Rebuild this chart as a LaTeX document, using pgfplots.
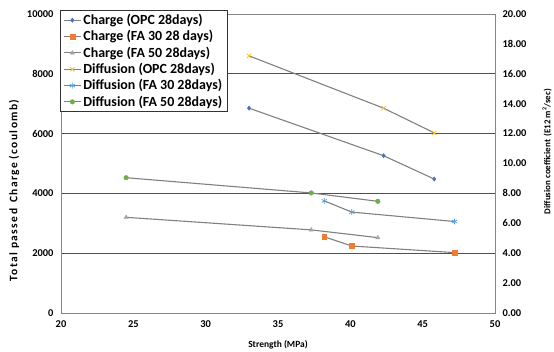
\documentclass[border=0pt]{standalone}
\usepackage{pgfplots}
\pgfplotsset{compat=1.18}
\usepackage{fontspec}
\setmainfont{Carlito}
\newfontfamily\spacedfont[LetterSpace=12]{Carlito}

\definecolor{cblue}{RGB}{68,114,196}
\definecolor{corange}{RGB}{237,125,49}
\definecolor{cgray}{RGB}{165,165,165}
\definecolor{cgold}{RGB}{255,192,0}
\definecolor{clblue}{RGB}{91,155,213}
\definecolor{cgreen}{RGB}{112,173,71}
\definecolor{linegray}{RGB}{128,128,128}
\definecolor{framegray}{RGB}{134,134,134}
\definecolor{gridgray}{RGB}{80,80,80}

\pgfplotsset{
  series/.style={color=linegray, line width=1.1pt, mark size=#1},
  common/.style={
    scale only axis, width=434bp, height=299bp,
    xmin=20, xmax=50,
    major tick length=0pt,
    tick label style={font=\bfseries\fontsize{10.5}{12}\selectfont},
    /pgf/number format/assume math mode=true,
  },
}

\begin{document}
\begin{tikzpicture}
\useasboundingbox (-61bp,-39bp) rectangle (493bp,313bp);

% Total passed charge (left axis)
\begin{axis}[common,
  ymin=0, ymax=10000, ytick={0,2000,...,10000},
  xtick={20,25,...,50},
  scaled y ticks=false,
  yticklabel style={/pgf/number format/1000 sep={}, xshift=-4bp},
  xticklabel style={yshift=-4bp},
  axis line style={framegray, line width=0.8pt},
  ymajorgrids, grid style={gridgray, line width=0.8pt},
  xlabel={Strength (MPa)}, ylabel={Total passed\, Charge (coulomb)},
  xlabel style={at={(axis description cs:0.5,-0.107)}, anchor=center,
    font=\bfseries\fontsize{9.5}{11}\selectfont},
  ylabel style={at={(axis description cs:-0.108,0.41)}, anchor=center,
    font=\spacedfont\bfseries\fontsize{11.5}{13}\selectfont},
]
\addplot[series=2.2pt, mark=diamond*, mark options={cblue, fill=cblue, line width=0.4pt}]
  coordinates {(33.0,6850) (42.3,5260) (45.8,4480)};
\addplot[series=2.4pt, mark=square*, mark options={corange, fill=corange, line width=0.4pt}]
  coordinates {(38.2,2550) (40.1,2240) (47.2,2020)};
\addplot[series=2.4pt, mark=triangle*, mark options={cgray, fill=cgray, line width=0.4pt}]
  coordinates {(24.5,3200) (37.3,2780) (41.9,2520)};
\end{axis}

% Diffusion coefficient (right axis)
\begin{axis}[common,
  ymin=0, ymax=20, ytick={0,2,...,20},
  axis x line=none, axis y line*=right,
  axis line style={framegray, line width=0.8pt},
  yticklabel style={/pgf/number format/.cd, fixed, fixed zerofill, precision=2, /tikz/.cd, xshift=4bp},
  ylabel={Diffusion coefficient\, (E12 m\textsuperscript{2}/sec)},
  ylabel style={at={(axis description cs:1.12,0.54)}, anchor=center, rotate=0,
    font=\bfseries\fontsize{9}{10}\selectfont},
  legend style={at={(0,1)}, anchor=north west, xshift=-1bp, yshift=4bp,
    draw=black!80, line width=0.6pt, fill=white,
    font=\bfseries\fontsize{14}{16}\selectfont,
    row sep=0.5bp, inner xsep=3bp, inner ysep=2bp},
  legend cell align=left,
]
\addlegendimage{series=2.2pt, mark=diamond*, mark options={cblue, fill=cblue, line width=0.4pt}}
\addlegendentry{Charge (OPC 28days)}
\addlegendimage{series=2.4pt, mark=square*, mark options={corange, fill=corange, line width=0.4pt}}
\addlegendentry{Charge (FA 30 28 days)}
\addlegendimage{series=2.4pt, mark=triangle*, mark options={cgray, fill=cgray, line width=0.4pt}}
\addlegendentry{Charge (FA 50 28days)}
\addplot[series=3pt, mark=x, mark options={cgold, line width=0.7pt}]
  coordinates {(33.0,17.2) (42.3,13.7) (45.8,12.05)};
\addlegendentry{Diffusion (OPC 28days)}
\addplot[series=3pt, mark=asterisk, mark options={clblue, line width=0.7pt}]
  coordinates {(38.2,7.5) (40.1,6.75) (47.2,6.12)};
\addlegendentry{Diffusion (FA 30 28days)}
\addplot[series=2.3pt, mark=*, mark options={cgreen, fill=cgreen, line width=0.4pt}]
  coordinates {(24.5,9.05) (37.3,8.03) (41.9,7.47)};
\addlegendentry{Diffusion (FA 50 28days)}
\end{axis}
\end{tikzpicture}
\end{document}
